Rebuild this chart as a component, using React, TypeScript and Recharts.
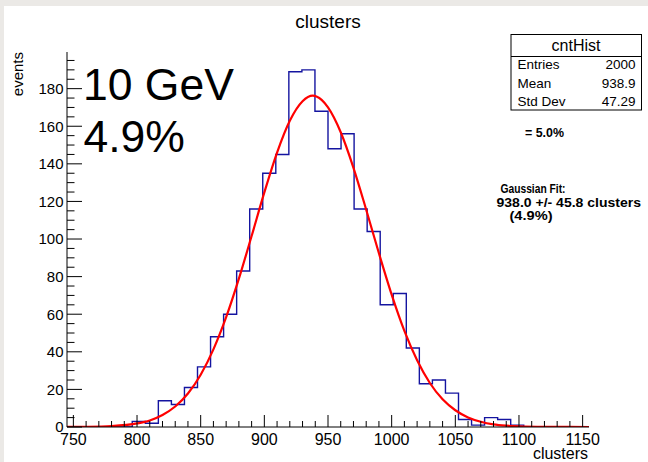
import React from 'react';
import { ComposedChart, Line, XAxis, YAxis } from 'recharts';

// Histogram bin edges (745 .. 1155, 40 bins) and counts
const BIN_EDGES = [
  745, 755.25, 765.5, 775.75, 786, 796.25, 806.5, 816.75, 827, 837.25,
  847.5, 857.75, 868, 878.25, 888.5, 898.75, 909, 919.25, 929.5, 939.75,
  950, 960.25, 970.5, 980.75, 991, 1001.25, 1011.5, 1021.75, 1032, 1042.25,
  1052.5, 1062.75, 1073, 1083.25, 1093.5, 1103.75, 1114, 1124.25, 1134.5, 1144.75,
  1155,
];
const BIN_COUNTS = [
  0, 0, 0, 0, 0, 3, 2, 14, 12, 21,
  32, 48, 60, 83, 116, 135, 145, 189, 190, 168,
  148, 156, 116, 104, 65, 71, 42, 23, 25, 18,
  4, 1, 5, 4, 1, 0, 0, 0, 0, 0,
];

// Gaussian fit curve
const FIT_X = [745, 760, 780, 800, 810, 820, 830, 840, 850, 860, 870, 880, 890, 900, 910, 920, 930, 938, 945, 950, 960, 970, 980, 990, 1000, 1010, 1020, 1030, 1040, 1050, 1060, 1070, 1080, 1090, 1100, 1120, 1155];
const FIT_Y = [0.02, 0.1, 0.5, 1.9, 3.5, 6.4, 10.9, 17.8, 27.8, 41.3, 58.4, 78.9, 101.6, 124.8, 146, 162.9, 173.3, 176.3, 174, 170, 156.8, 137.9, 115.6, 92.4, 70.4, 51.1, 35.5, 23.4, 14.7, 8.9, 5.1, 2.8, 1.4, 0.7, 0.34, 0.07, 0];

const X_TICKS = [750, 760, 770, 780, 790, 800, 810, 820, 830, 840, 850, 860, 870, 880, 890, 900, 910, 920, 930, 940, 950, 960, 970, 980, 990, 1000, 1010, 1020, 1030, 1040, 1050, 1060, 1070, 1080, 1090, 1100, 1110, 1120, 1130, 1140, 1150];
const Y_TICKS = [0, 5, 10, 15, 20, 25, 30, 35, 40, 45, 50, 55, 60, 65, 70, 75, 80, 85, 90, 95, 100, 105, 110, 115, 120, 125, 130, 135, 140, 145, 150, 155, 160, 165, 170, 175, 180, 185, 190, 195];

const STATS_ROWS = [
  ['Entries', '2000'],
  ['Mean', '938.9'],
  ['Std Dev', '47.29'],
];

const histData = BIN_EDGES.map((x, i) => ({ x, y: i < BIN_COUNTS.length ? BIN_COUNTS[i] : BIN_COUNTS[BIN_COUNTS.length - 1] }));
const fitData = FIT_X.map((x, i) => ({ x, y: FIT_Y[i] }));

const FONT = '"Liberation Sans", Arial, Helvetica, sans-serif';

const XTick = (props: any) => {
  const { x, y, payload } = props;
  const v = payload.value;
  const major = v % 50 === 0;
  return (
    <g>
      <line x1={x} x2={x} y1={y} y2={y - (major ? 12 : 6)} stroke="#000" strokeWidth={1} />
      {major && (
        <text x={x} y={y + 18} textAnchor="middle" fontSize={16} fontFamily={FONT} fill="#000">
          {v}
        </text>
      )}
    </g>
  );
};

const YTick = (props: any) => {
  const { x, y, payload } = props;
  const v = payload.value;
  const major = v % 20 === 0;
  return (
    <g>
      <line x1={x} x2={x + (major ? 15 : 7.5)} y1={y} y2={y} stroke="#000" strokeWidth={1} />
      {major && (
        <text x={x - 3.5} y={y + 5.4} textAnchor="end" fontSize={15} fontFamily={FONT} fill="#000">
          {v}
        </text>
      )}
    </g>
  );
};

export default function App() {
  return (
    <div style={{ position: 'absolute', left: 0, top: 0, width: 648, height: 462, background: '#ebe9e6', overflow: 'hidden' }}>
      <div style={{ position: 'absolute', left: 4, top: 6, width: 644, height: 456, background: '#ffffff' }} />
      <div style={{ position: 'absolute', left: 0, top: 0 }}>
        <ComposedChart width={648} height={462} margin={{ top: 52, right: 59, bottom: 0, left: 0 }}>
          <XAxis
            type="number"
            dataKey="x"
            domain={[745, 1155]}
            allowDataOverflow
            ticks={X_TICKS}
            interval={0}
            tickSize={0}
            tickMargin={0}
            tickLine={false}
            tick={<XTick />}
            axisLine={{ stroke: '#000', strokeWidth: 1 }}
            height={35}
          />
          <XAxis
            xAxisId="top"
            orientation="top"
            type="number"
            domain={[745, 1155]}
            allowDataOverflow
            height={0}
            tick={false}
            tickLine={false}
            axisLine={{ stroke: '#000', strokeWidth: 1 }}
          />
          <YAxis
            type="number"
            domain={[0, 199.5]}
            allowDataOverflow
            ticks={Y_TICKS}
            interval={0}
            tickSize={0}
            tickMargin={0}
            tickLine={false}
            tick={<YTick />}
            axisLine={{ stroke: '#000', strokeWidth: 1 }}
            width={67}
          />
          <YAxis
            yAxisId="right"
            orientation="right"
            type="number"
            domain={[0, 199.5]}
            allowDataOverflow
            width={0}
            tick={false}
            tickLine={false}
            axisLine={{ stroke: '#000', strokeWidth: 1 }}
          />
          <Line
            data={histData}
            dataKey="y"
            type="stepAfter"
            stroke="#1414a0"
            strokeWidth={1.4}
            dot={false}
            activeDot={false}
            isAnimationActive={false}
          />
          <Line
            data={fitData}
            dataKey="y"
            type="monotone"
            stroke="#ff0000"
            strokeWidth={2.2}
            dot={false}
            activeDot={false}
            isAnimationActive={false}
          />
        </ComposedChart>
      </div>
      <svg width={648} height={462} style={{ position: 'absolute', left: 0, top: 0, pointerEvents: 'none' }} fontFamily={FONT}>
        <text x={328} y={27.5} textAnchor="middle" fontSize={19} fill="#000">clusters</text>
        <text transform="translate(22.5,52) rotate(-90)" textAnchor="end" fontSize={15} fill="#000">events</text>
        <text x={588} y={459} textAnchor="end" fontSize={16} fill="#000">clusters</text>
        <text x={83} y={99.5} fontSize={44.5} fill="#000">10 GeV</text>
        <text x={83.5} y={151.5} fontSize={44.5} fill="#000">4.9%</text>

        <rect x={511} y={34.5} width={130.5} height={75.5} fill="#fff" stroke="#000" strokeWidth={1} />
        <line x1={511} x2={641.5} y1={56.5} y2={56.5} stroke="#000" strokeWidth={1} />
        <text x={576} y={51} textAnchor="middle" fontSize={16} fill="#000">cntHist</text>
        {STATS_ROWS.map((r, i) => (
          <g key={r[0]}>
            <text x={517.5} y={69 + i * 18.5} fontSize={13.5} fill="#000">{r[0]}</text>
            <text x={635.5} y={69 + i * 18.5} textAnchor="end" fontSize={13.5} fill="#000">{r[1]}</text>
          </g>
        ))}

        <text x={525} y={136.5} fontSize={12} fontWeight="bold" fill="#000" textLength={39} lengthAdjust="spacingAndGlyphs">= 5.0%</text>
        <text x={500.5} y={192.5} fontSize={12.5} fontWeight="bold" fill="#000" textLength={65} lengthAdjust="spacingAndGlyphs">Gaussian Fit:</text>
        <text x={496.5} y={206.5} fontSize={12.5} fontWeight="bold" fill="#000" textLength={144.5} lengthAdjust="spacingAndGlyphs">938.0 +/- 45.8 clusters</text>
        <text x={509.5} y={219.5} fontSize={12.5} fontWeight="bold" fill="#000" textLength={43} lengthAdjust="spacingAndGlyphs">(4.9%)</text>
      </svg>
    </div>
  );
}
